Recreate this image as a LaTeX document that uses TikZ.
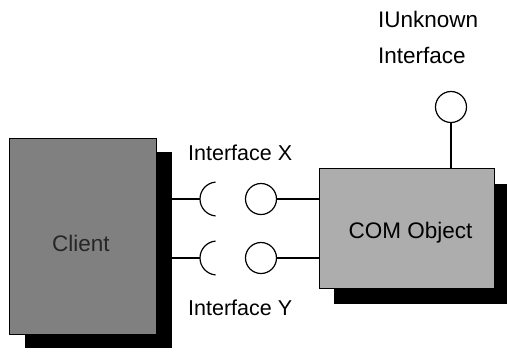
\documentclass[tikz,border=0pt]{standalone}
\usepackage{fontspec}
\setmainfont{Liberation Sans}
\tikzset{
  shadowbox/.style={rectangle, fill=black, draw=none, inner sep=0pt},
  greybox/.style={rectangle, draw=black, line width=0.8pt, inner sep=0pt},
  ball/.style={circle, draw=black, line width=1.2pt, minimum size=31pt, inner sep=0pt, fill=white},
  conn/.style={draw=black, line width=1.2pt},
  lbl/.style={inner sep=0pt, anchor=base west, font=\fontsize{21.5pt}{24pt}\selectfont},
  boxtext/.style={inner sep=0pt, font=\fontsize{22.5pt}{25pt}\selectfont},
}
\begin{document}
\begin{tikzpicture}[x=1pt,y=-1pt]
\useasboundingbox (0,0) rectangle (507,349);
% Client
\node[shadowbox, minimum width=147pt, minimum height=196pt] (clientshadow) at (98.5,250) {};
\node[greybox, fill=black!50, minimum width=147pt, minimum height=196pt] (client) at (82.5,236) {};
\node[boxtext, text=black!85] (clientlabel) at (81,243) {Client};
% COM object
\node[shadowbox, minimum width=173pt, minimum height=120pt] (comshadow) at (420.5,244) {};
\node[greybox, fill=black!32, minimum width=175pt, minimum height=120pt] (com) at (406.5,228) {};
\node[boxtext] (comlabel) at (410.5,233) {COM Object};
% interfaces
\coordinate (cupX) at (200,199);
\coordinate (cupY) at (200,258);
\node[ball] (ballX) at (261,199) {};
\node[ball] (ballY) at (261,258) {};
\node[ball] (ballU) at (451,107) {};
\draw[conn] (clientshadow.east |- cupX) -- (cupX);
\draw[conn] (clientshadow.east |- cupY) -- (cupY);
\draw[conn] (cupX) arc[start angle=180, end angle=95, radius=17pt];
\draw[conn] (cupX) arc[start angle=180, end angle=265, radius=17pt];
\draw[conn] (cupY) arc[start angle=180, end angle=95, radius=17pt];
\draw[conn] (cupY) arc[start angle=180, end angle=265, radius=17pt];
\draw[conn] (ballX) -- (com.west |- ballX);
\draw[conn] (ballY) -- (com.west |- ballY);
\draw[conn] (ballU) -- (com.north -| ballU);
% labels
\node[lbl] (labX) at (188,160) {Interface X};
\node[lbl] (labY) at (188,315) {Interface Y};
\node[lbl, font=\fontsize{22.5pt}{25pt}\selectfont] (labU1) at (378,27) {IUnknown};
\node[lbl, font=\fontsize{22.5pt}{25pt}\selectfont] (labU2) at (378,63) {Interface};
\end{tikzpicture}
\end{document}
